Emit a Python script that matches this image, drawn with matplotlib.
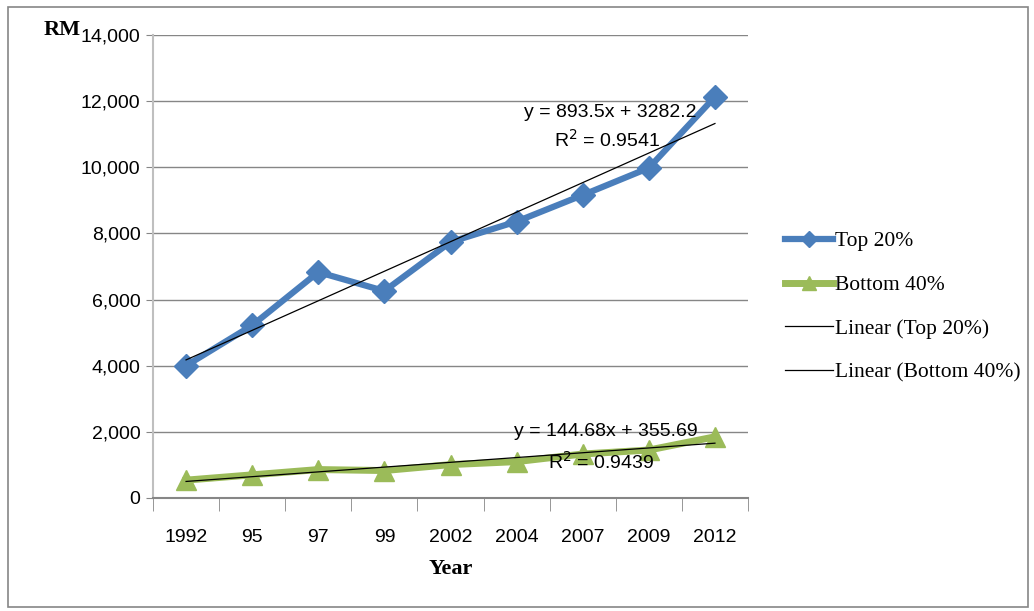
import matplotlib.pyplot as plt
from matplotlib.patches import Rectangle
import numpy as np

# Datos
years = ['1992', '95', '97', '99', '2002', '2004', '2007', '2009', '2012']
top20 = [4000, 5220, 6830, 6260, 7740, 8360, 9160, 9980, 12130]
bottom40 = [540, 700, 860, 830, 1010, 1100, 1330, 1450, 1850]
top_trend = (893.5, 3282.2, 0.9541)
bottom_trend = (144.68, 355.69, 0.9439)

tick_font = ['Liberation Sans', 'DejaVu Sans']
serif_font = ['Liberation Serif', 'DejaVu Serif']

fig = plt.figure(figsize=(10.34, 6.11), dpi=100)
ax = fig.add_axes([153 / 1034, 1 - 498 / 611, (748 - 153) / 1034, (498 - 35) / 611])

x = np.arange(1, len(years) + 1)

ax.plot(x, top20, color='#4A7EBB', linewidth=4.5, marker='D', markersize=12,
        label='Top 20%')
ax.plot(x, bottom40, color='#9BBB59', linewidth=5, marker='^', markersize=15,
        label='Bottom 40%')

# Lineas de tendencia
ax.plot(x, top_trend[0] * x + top_trend[1], color='black', linewidth=0.9,
        label='Linear (Top 20%)')
ax.plot(x, bottom_trend[0] * x + bottom_trend[1], color='black', linewidth=0.9,
        label='Linear (Bottom 40%)')

ax.text(7.41, 11670, 'y = {}x + {}'.format(top_trend[0], top_trend[1]),
        ha='center', va='center', fontsize=14, family=tick_font)
ax.text(7.37, 10830, 'R$^2$ = {}'.format(top_trend[2]),
        ha='center', va='center', fontsize=14, family=tick_font)
ax.text(7.35, 2000, 'y = {}x + {}'.format(bottom_trend[0], bottom_trend[1]),
        ha='center', va='center', fontsize=14, family=tick_font)
ax.text(7.28, 1090, 'R$^2$ = {}'.format(bottom_trend[2]),
        ha='center', va='center', fontsize=14, family=tick_font)

ax.set_xlim(0.5, len(years) + 0.5)
ax.set_ylim(0, 14000)
ax.set_yticks(range(0, 14001, 2000))
ax.set_yticklabels(['{:,}'.format(v) for v in range(0, 14001, 2000)],
                   fontsize=14, family=tick_font)
ax.set_xticks(x)
ax.set_xticklabels(years, fontsize=14, family=tick_font)
ax.set_xticks(np.arange(0.5, len(years) + 1), minor=True)
ax.tick_params(axis='x', which='major', length=0, pad=22)
ax.tick_params(axis='x', which='minor', length=9, color='#868686')
ax.tick_params(axis='y', length=5, color='#868686', pad=4)

ax.grid(axis='y', color='#868686', linewidth=1)
ax.set_axisbelow(True)
for s in ['top', 'right']:
    ax.spines[s].set_visible(False)
ax.spines['left'].set_color('#BFBFBF')
ax.spines['left'].set_linewidth(1.5)
ax.spines['bottom'].set_color('#868686')
ax.spines['bottom'].set_linewidth(1.5)

ax.set_xlabel('Year', fontsize=16, fontweight='bold', family=serif_font, labelpad=10)
fig.text(62 / 1034, 1 - 30 / 611, 'RM', fontsize=16, fontweight='bold',
         family=serif_font, ha='center', va='center')

leg = fig.legend(loc='upper left', bbox_to_anchor=(766 / 1034, 1 - 212 / 611),
                 frameon=False, prop={'family': serif_font, 'size': 15.5},
                 handlelength=2.2, handletextpad=0.1, labelspacing=1.1,
                 markerscale=0.7)

# Marco exterior
fig.patches.append(Rectangle((8 / 1034, 4 / 611), 1020 / 1034, 600 / 611,
                             transform=fig.transFigure, fill=False,
                             edgecolor='#868686', linewidth=1.2))

fig.savefig('out.png', dpi=100)
